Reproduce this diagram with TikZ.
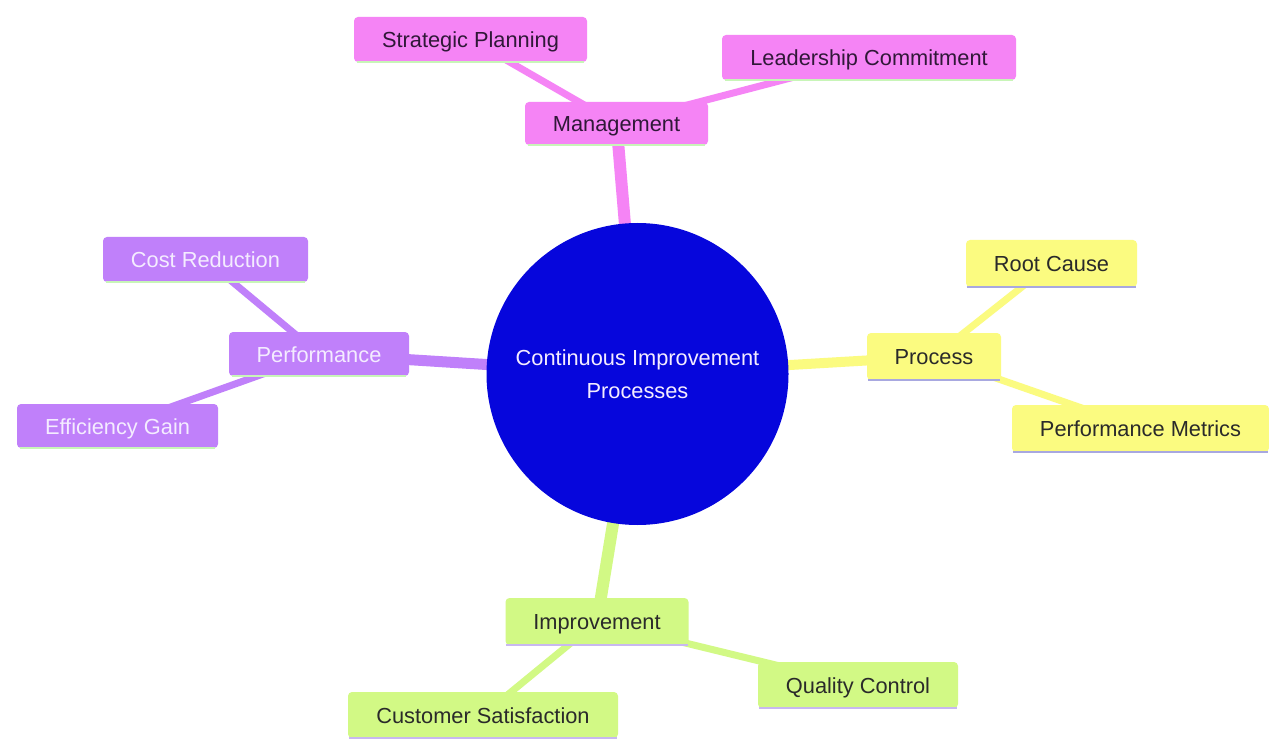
\documentclass[tikz,border=0pt]{standalone}
\usepackage{fontspec}
\setmainfont{Liberation Sans}
\usetikzlibrary{backgrounds}
\pgfdeclarelayer{paper}
\pgfsetlayers{paper,background,main}
\definecolor{pinkN}{HTML}{F584F5}
\definecolor{purpN}{HTML}{C080FA}
\definecolor{yellN}{HTML}{FBFB80}
\definecolor{grenN}{HTML}{D2F985}
\definecolor{blueC}{HTML}{0606DC}
\definecolor{ulGreen}{HTML}{C8F5B8}
\definecolor{ulLav}{HTML}{A8A8E0}
\definecolor{ulLav2}{HTML}{C8B8F0}
\definecolor{txtDark}{HTML}{2A2A2A}
\definecolor{txtPink}{HTML}{301838}
\definecolor{txtLight}{HTML}{F4ECFF}
\tikzset{
  x=1pt, y=-1pt,
  box/.style={rectangle, rounded corners=4pt, inner sep=0pt, minimum height=45pt, align=center,
    text height=16pt, text depth=0pt, font=\fontsize{21.8}{26}\selectfont},
  pk/.style={box, fill=pinkN, text=txtPink},
  pu/.style={box, fill=purpN, text=txtLight},
  ye/.style={box, fill=yellN, text=txtDark},
  gr/.style={box, fill=grenN, text=txtDark},
  ulg/.style={draw=ulGreen, line width=2.5pt},
  ull/.style={draw=ulLav, line width=2.5pt},
  ull2/.style={draw=ulLav2, line width=2.5pt},
  main/.style={line width=12pt},
  sub/.style={line width=7pt},
}
\begin{document}
\begin{tikzpicture}
\useasboundingbox (0,0) rectangle (1269,743);
\begin{pgfonlayer}{paper}
\fill[white] (0,0) rectangle (1269,743);
\end{pgfonlayer}

\node[circle, fill=blueC, minimum size=302pt, inner sep=0pt, text=txtLight, align=center,
  font=\fontsize{21.8}{33}\selectfont] (c) at (637.5,374) {Continuous Improvement\\Processes};

\node[pk, minimum width=233pt] (sp) at (470.5,39.5) {Strategic Planning};
\node[pk, minimum width=183pt, minimum height=43pt] (mg) at (616.5,123.5) {Management};
\node[pk, minimum width=294pt] (lc) at (869,57.5) {Leadership Commitment};

\node[pu, minimum width=205pt] (cr) at (205.5,259.5) {Cost Reduction};
\node[pu, minimum width=180pt, minimum height=44pt] (pf) at (319,354) {Performance};
\node[pu, minimum width=201pt, minimum height=44pt] (eg) at (117.5,426) {Efficiency Gain};

\node[ye, minimum width=171pt, minimum height=47pt] (rc) at (1051.5,263.5) {Root Cause};
\node[ye, minimum width=134pt, minimum height=47pt] (pr) at (934,356.5) {Process};
\node[ye, minimum width=257pt, minimum height=47pt] (pm) at (1140.5,428.5) {Performance Metrics};

\node[gr, minimum width=183pt, minimum height=47pt] (im) at (597,621.5) {Improvement};
\node[gr, minimum width=200pt, minimum height=46pt] (qc) at (858,685) {Quality Control};
\node[gr, minimum width=270pt, minimum height=46pt] (cs) at (483,715) {Customer Satisfaction};

% underlines
\foreach \n in {sp,mg,lc,cr,pf,eg} \draw[ulg] ([xshift=3pt]\n.south west) -- ([xshift=-3pt]\n.south east);
\foreach \n in {rc,pr,pm} \draw[ull] ([xshift=1pt]\n.south west) -- ([xshift=-1pt]\n.south east);
\foreach \n in {im,qc,cs} \draw[ull2] ([xshift=1pt]\n.south west) -- ([xshift=-1pt]\n.south east);

\begin{scope}[on background layer]
  \draw[main, pinkN] (c.center) -- (mg.center);
  \draw[main, purpN, line width=11pt] (c.center) -- (pf.center);
  \draw[main, yellN, line width=10pt] (c.center) -- (pr.center);
  \draw[main, grenN] (c.center) -- (im.center);
  \draw[sub, pinkN] (mg.center) -- (sp.center);
  \draw[sub, pinkN] (mg.center) -- (lc.center);
  \draw[sub, purpN] (pf.center) -- (cr.center);
  \draw[sub, purpN] (pf.center) -- (eg.center);
  \draw[sub, yellN] (pr.center) -- (rc.center);
  \draw[sub, yellN] (pr.center) -- (pm.center);
  \draw[sub, grenN] (im.center) -- (qc.center);
  \draw[sub, grenN] (im.center) -- (cs.center);
\end{scope}
\end{tikzpicture}
\end{document}
